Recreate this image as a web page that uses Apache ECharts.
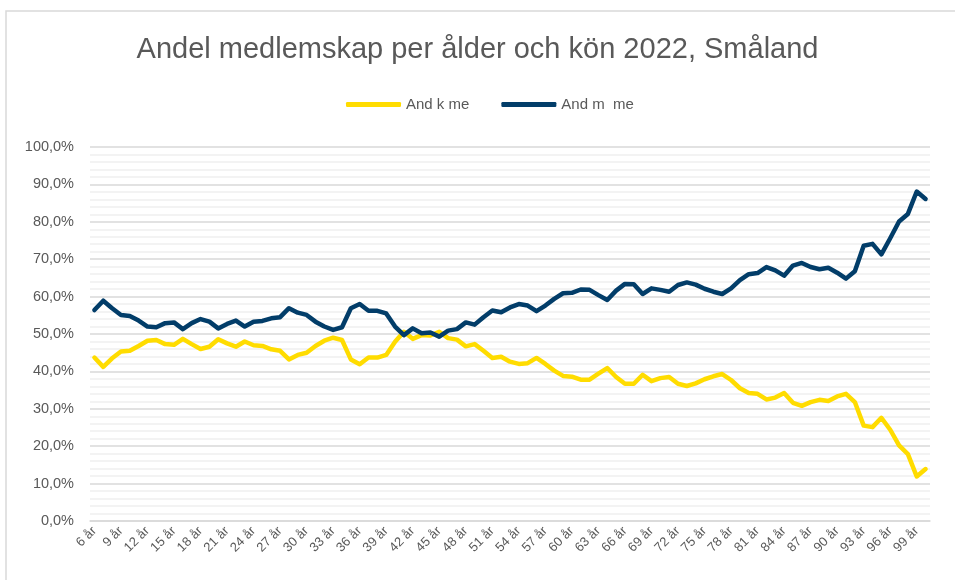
<!DOCTYPE html>
<html>
<head>
<meta charset="utf-8">
<script src="https://cdn.jsdelivr.net/npm/echarts@6/dist/echarts.min.js"></script>
<style>
html,body{margin:0;padding:0;background:#fff;}
#c{width:955px;height:580px;}
</style>
</head>
<body>
<div id="c"></div>
<script>
const ages = [];
for (let a = 6; a <= 100; a++) ages.push(a + ' år');

const seriesNames = ['And k me', 'And m  me'];

const women = [
43.7,41.2,43.5,45.3,45.5,46.8,48.2,48.4,47.3,47.1,
48.7,47.3,46.0,46.6,48.6,47.5,46.6,48.0,47.0,46.8,
45.9,45.5,43.2,44.4,45.0,46.8,48.2,49.0,48.4,43.2,
41.9,43.7,43.7,44.4,47.9,50.6,48.7,49.7,49.6,50.6,
48.9,48.5,46.7,47.3,45.5,43.6,43.9,42.6,42.0,42.2,
43.6,42.0,40.2,38.8,38.6,37.8,37.8,39.4,40.9,38.5,
36.7,36.7,39.1,37.4,38.2,38.5,36.7,36.1,36.8,37.9,
38.7,39.3,37.7,35.5,34.2,34.0,32.5,33.0,34.2,31.6,
30.8,31.8,32.4,32.1,33.3,34.0,31.8,25.5,25.1,27.6,
24.4,20.2,17.9,11.9,13.9
];

const men = [
56.4,58.9,56.9,55.1,54.8,53.6,52.0,51.8,52.9,53.1,
51.3,52.9,54.0,53.3,51.5,52.7,53.6,52.0,53.3,53.5,
54.2,54.5,56.9,55.7,55.1,53.3,52.0,51.1,51.8,56.9,
58.0,56.2,56.2,55.5,52.0,49.7,51.5,50.2,50.4,49.3,
50.9,51.3,53.1,52.5,54.5,56.3,55.8,57.1,58.0,57.6,
56.1,57.6,59.4,60.9,61.0,61.9,61.8,60.4,59.1,61.6,
63.4,63.3,60.7,62.2,61.8,61.3,63.1,63.8,63.2,62.1,
61.3,60.7,62.2,64.4,66.0,66.3,67.9,67.0,65.6,68.3,
69.0,67.9,67.3,67.7,66.4,64.8,66.8,73.6,74.1,71.3,
75.6,80.1,82.1,88.1,86.1
];

const chart = echarts.init(document.getElementById('c'), null, {renderer: 'canvas'});
const font = '"Liberation Sans", Arial, sans-serif';
chart.setOption({
  animation: false,
  backgroundColor: '#fff',
  textStyle: {fontFamily: font},
  graphic: [{
    type: 'rect',
    shape: {x: 6, y: 11, width: 960, height: 590},
    style: {fill: 'none', stroke: '#d9d9d9', lineWidth: 1.5},
    silent: true
  }],
  title: {
    text: 'Andel medlemskap per ålder och kön 2022, Småland',
    left: 'center',
    top: 30,
    textStyle: {fontFamily: font, fontSize: 29, fontWeight: 'normal', color: '#595959'}
  },
  legend: {
    top: 92,
    left: 341,
    itemWidth: 55,
    itemHeight: 5,
    itemGap: 32,
    icon: 'roundRect',
    textStyle: {fontFamily: font, fontSize: 15, color: '#595959'},
    data: seriesNames
  },
  grid: {left: 90, right: 25, top: 147, bottom: 59, containLabel: false},
  xAxis: {
    type: 'category',
    data: ages,
    boundaryGap: true,
    axisLine: {show: true, lineStyle: {color: '#d9d9d9', width: 1.5}},
    axisTick: {show: false},
    axisLabel: {interval: 2, rotate: 45, fontSize: 13, color: '#595959', fontFamily: font, margin: 8},
    splitLine: {show: false}
  },
  yAxis: {
    type: 'value',
    min: 0,
    max: 100,
    interval: 10,
    axisLine: {show: false},
    axisTick: {show: false},
    axisLabel: {
      fontSize: 14.5, color: '#595959', fontFamily: font, margin: 16,
      formatter: v => v.toFixed(1).replace('.', ',') + '%'
    },
    splitLine: {show: true, lineStyle: {color: '#d9d9d9', width: 1.5}},
    minorTick: {show: false, splitNumber: 5},
    minorSplitLine: {show: true, lineStyle: {color: '#efefef', width: 1.5}}
  },
  series: [
    {
      name: seriesNames[0], type: 'line', data: women, symbol: 'none',
      lineStyle: {color: '#FFDC00', width: 4.5, join: 'round', cap: 'round'},
      itemStyle: {color: '#FFDC00'}
    },
    {
      name: seriesNames[1], type: 'line', data: men, symbol: 'none',
      lineStyle: {color: '#023D69', width: 4.5, join: 'round', cap: 'round'},
      itemStyle: {color: '#023D69'}
    }
  ]
});
</script>
</body>
</html>
